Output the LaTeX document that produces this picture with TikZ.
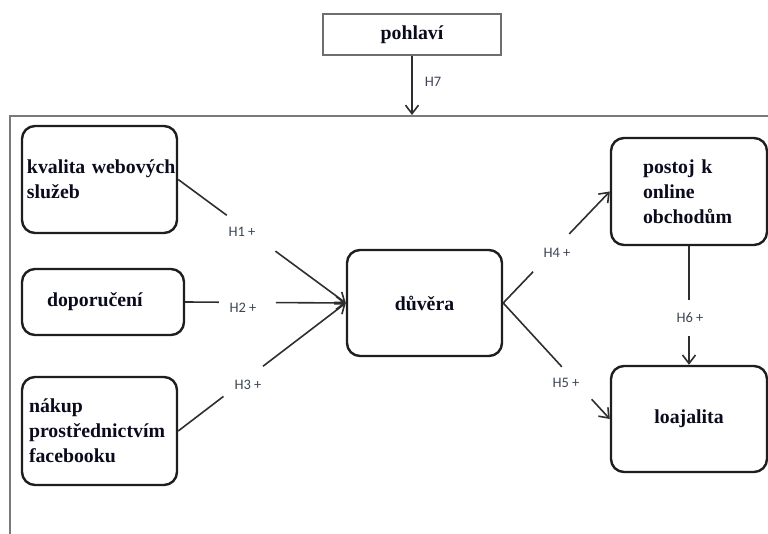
\documentclass[tikz,border=0pt]{standalone}
\usepackage{fontspec}
\setmainfont{Liberation Serif}
\newfontfamily\lblfont{Carlito}
\usetikzlibrary{arrows.meta,calc}
\definecolor{boxtext}{HTML}{0B0B1E}
\definecolor{boxline}{HTML}{1E1E1E}
\definecolor{edge}{HTML}{2E2E2E}
\definecolor{lbltext}{HTML}{3C4656}
\definecolor{framegray}{HTML}{7A7A7A}

\begin{document}
\begin{tikzpicture}[x=1pt,y=-1pt,
  box/.style={draw=boxline, line width=2.4pt, rounded corners=13pt, fill=white,
    text=boxtext, font=\fontsize{19.8}{25}\selectfont\bfseries, inner sep=0pt},
  plainbox/.style={draw=framegray!90!black, line width=1.5pt, fill=white,
    text=boxtext, font=\fontsize{19.8}{25}\selectfont\bfseries, inner sep=0pt},
  conn/.style={draw=edge, line width=1.6pt},
  tip/.style={conn, -{Straight Barb[length=8.5pt,width=13pt,line width=1.6pt]}},
  hlbl/.style={text=lbltext, font=\lblfont\fontsize{14.5}{16}\selectfont, inner sep=0pt}]

\useasboundingbox (0,0) rectangle (768,534);

% outer frame (open to the right and bottom)
\draw[framegray, line width=1.8pt, line join=miter] (10,534) -- (10,116) -- (768,116);

% moderator
\node[plainbox, minimum width=178pt, minimum height=41pt] (ph) at (412,34.5) {pohlaví};
\coordinate (ft) at (412,115);

% antecedents
\node[box, minimum width=155pt, minimum height=107pt, text width=145pt, align=left]
  (kv) at (99.5,179.5) {\mbox{kvalita webových}\\služeb};
\node[box, minimum width=162pt, minimum height=66pt, text width=112pt, align=left]
  (dp) at (103,302) {doporučení};
\node[box, minimum width=155pt, minimum height=108pt, text width=141pt, align=left]
  (nk) at (99.5,431) {nákup\\\mbox{prostřednictvím}\\facebooku};

% mediator
\node[box, minimum width=155pt, minimum height=106pt] (du) at (424.5,303) {důvěra};

% outcomes
\node[box, minimum width=156pt, minimum height=107pt, text width=92pt, align=left]
  (pt) at (689,191.5) {postoj k\\online\\\mbox{obchodům}};
\node[box, minimum width=156pt, minimum height=106pt] (lo) at (689,419) {loajalita};

% H7
\draw[tip] (ph.south) -- (ft);
\node[hlbl] (h7) at (433,82) {H7};

% H1
\draw[conn] (kv.east) -- ($(kv.east)!0.29!(du.west)$);
\draw[tip] ($(kv.east)!0.58!(du.west)$) -- (du.west);
\node[hlbl] (h1) at (242,232) {H1 +};

% H2
\draw[conn] (dp.east) -- ($(dp.east)!0.21!(du.west)$);
\draw[tip] ($(dp.east)!0.565!(du.west)$) -- (du.west);
\node[hlbl] (h2) at (243,308) {H2 +};

% H3
\draw[conn] (nk.east) -- ($(nk.east)!0.27!(du.west)$);
\draw[tip] ($(nk.east)!0.506!(du.west)$) -- (du.west);
\node[hlbl] (h3) at (248,385) {H3 +};

% H4
\draw[conn] (du.east) -- ($(du.east)!0.28!(pt.west)$);
\draw[tip] ($(du.east)!0.62!(pt.west)$) -- (pt.west);
\node[hlbl] (h4) at (557,253) {H4 +};

% H5
\draw[conn] (du.east) -- ($(du.east)!0.55!(lo.west)$);
\draw[tip] ($(du.east)!0.83!(lo.west)$) -- (lo.west);
\node[hlbl] (h5) at (566,383) {H5 +};

% H6
\draw[conn] (pt.south) -- ($(pt.south)!0.45!(lo.north)$);
\draw[tip] ($(pt.south)!0.76!(lo.north)$) -- (lo.north);
\node[hlbl] (h6) at (690,318) {H6 +};

\end{tikzpicture}
\end{document}
